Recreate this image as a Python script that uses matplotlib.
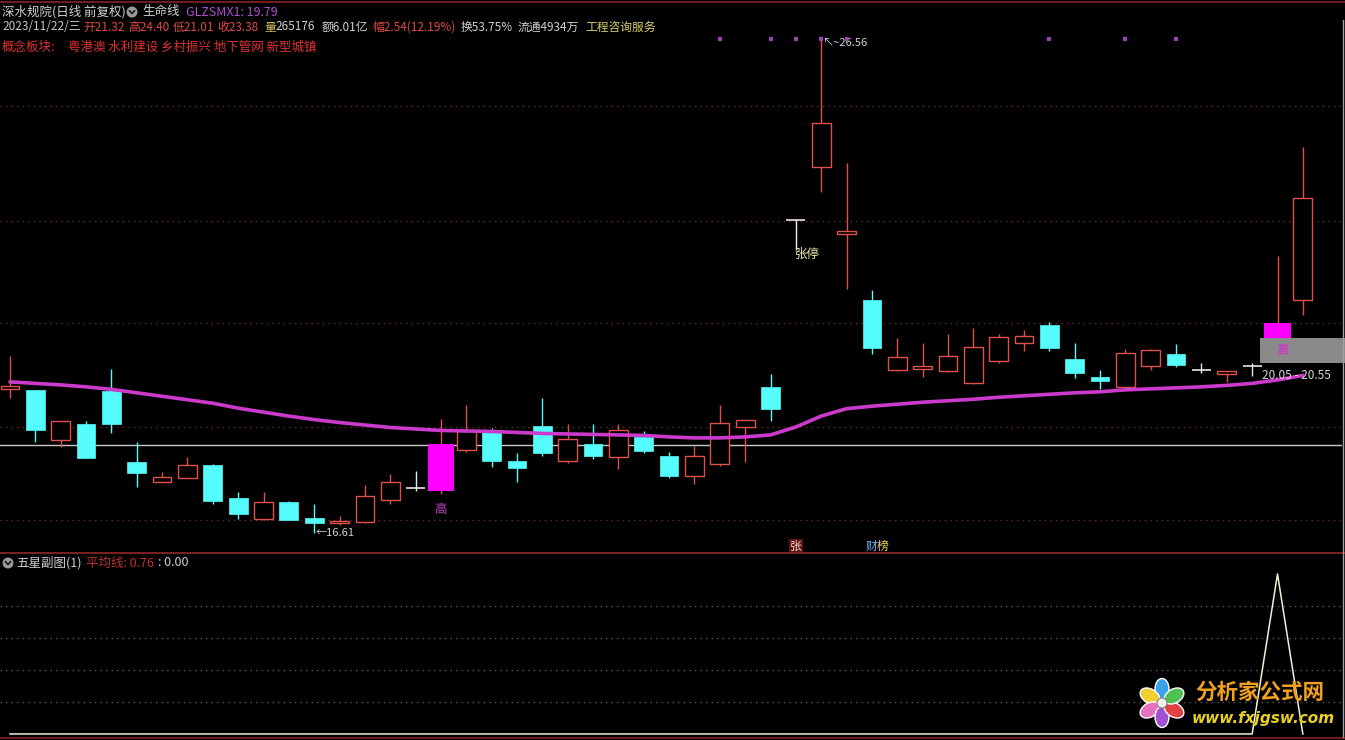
import math
import matplotlib
matplotlib.use("Agg")
import matplotlib.pyplot as plt
from matplotlib.patches import Rectangle, Circle, Ellipse
from matplotlib.lines import Line2D
from matplotlib.transforms import blended_transform_factory, IdentityTransform

plt.rcParams['font.family'] = ['Noto Sans CJK SC', 'DejaVu Sans']

# daily bars (oldest first)
opens = [19.52, 19.50, 18.48, 18.81, 19.48, 18.04, 17.63, 17.73, 17.98, 17.32,
         16.90, 17.23, 16.91, 16.81, 16.84, 17.28, 17.52, 17.46, 18.29, 18.69,
         18.06, 18.77, 18.06, 18.41, 18.15, 18.55, 18.16, 17.77, 18.01, 18.74,
         19.55, 22.93, 23.99, 22.65, 21.31, 19.91, 19.93, 19.89, 19.63, 20.09,
         20.44, 20.81, 20.12, 19.75, 19.56, 19.99, 20.22, 19.91, 19.81, 19.98,
         20.30, 21.32]
highs = [20.18, 19.50, 18.87, 18.87, 19.92, 18.45, 17.84, 18.14, 18.00, 17.44,
         17.43, 17.25, 17.20, 16.95, 17.58, 17.81, 17.86, 18.91, 19.19, 18.72,
         18.22, 19.33, 18.82, 18.81, 18.81, 18.67, 18.24, 18.37, 19.19, 18.89,
         19.82, 22.93, 26.56, 24.07, 21.51, 20.54, 20.44, 20.63, 20.74, 20.63,
         20.71, 20.87, 20.44, 19.90, 20.32, 20.32, 20.42, 20.05, 19.89, 20.05,
         22.20, 24.40]
lows = [19.33, 18.45, 18.34, 18.13, 18.62, 17.53, 17.63, 17.73, 17.20, 16.89,
        16.87, 16.88, 16.61, 16.77, 16.82, 17.20, 17.46, 17.40, 18.25, 17.95,
        17.63, 18.17, 18.03, 18.11, 17.90, 18.22, 17.73, 17.59, 17.96, 18.05,
        18.87, 22.93, 23.50, 21.53, 20.22, 19.87, 19.76, 19.85, 19.62, 20.05,
        20.29, 20.29, 19.73, 19.52, 19.55, 19.91, 19.97, 19.83, 19.66, 19.78,
        20.30, 21.01]
closes = [19.58, 18.68, 18.87, 18.13, 18.82, 17.83, 17.74, 17.98, 17.26, 17.00,
          17.23, 16.88, 16.82, 16.85, 17.36, 17.63, 17.52, 18.40, 18.67, 18.07,
          17.93, 18.23, 18.50, 18.17, 18.68, 18.27, 17.76, 18.16, 18.84, 18.89,
          19.11, 22.93, 24.88, 22.71, 20.35, 20.16, 19.98, 20.18, 20.36, 20.56,
          20.59, 20.35, 19.83, 19.67, 20.24, 20.30, 20.01, 19.91, 19.89, 19.98,
          20.84, 23.38]

# 生命线 GLZSMX1
life_line = [19.66, 19.63, 19.60, 19.56, 19.51, 19.44, 19.37, 19.30, 19.23, 19.13,
             19.05, 18.97, 18.90, 18.84, 18.79, 18.74, 18.71, 18.68, 18.67, 18.66,
             18.64, 18.62, 18.61, 18.60, 18.59, 18.58, 18.55, 18.53, 18.53, 18.55,
             18.59, 18.75, 18.97, 19.12, 19.17, 19.21, 19.25, 19.28, 19.31, 19.35,
             19.38, 19.41, 19.44, 19.46, 19.50, 19.52, 19.54, 19.56, 19.59, 19.63,
             19.70, 19.79]

# 五星副图 values
sub_values = [0, 0, 0, 0, 0, 0, 0, 0, 0, 0, 0, 0, 0, 0, 0, 0, 0, 0, 0, 0,
              0, 0, 0, 0, 0, 0, 0, 0, 0, 0, 0, 0, 0, 0, 0, 0, 0, 0, 0, 0,
              0, 0, 0, 0, 0, 0, 0, 0, 0, 0, 1, 0]

highlight_idx = [17, 50]          # magenta "高" bars
top_dots_idx = [28, 30, 31, 32, 33, 41, 44, 46]
limit_up_idx = 31
zone_low, zone_high = 20.05, 20.55
ref_level = 18.39
grid_levels = [25.23, 22.91, 20.85, 18.75, 16.87]
sub_grid = [0.2, 0.4, 0.6, 0.8]
zhang_idx, caibang_idx = 31, 34

W, H = 1345, 740
BG = 'black'
UP = '#e0504c'
DOWN = '#54fcfc'
DOJI = '#e6e6e6'
MAG = '#ff00ff'
LIFE = '#cc3acc'

fig = plt.figure(figsize=(W / 100, H / 100), dpi=100, facecolor=BG)

xl = (-10 / 25.35, 1332 / 25.35)
ax = fig.add_axes([0, 187 / H, 1342 / W, 550 / H], facecolor=BG)
ax.set_xlim(*xl)
ax.set_ylim(16.207, 27.307)
ax.axis('off')

for g in grid_levels:
    ax.axhline(g, color='#6e2a2a', lw=1, ls=(0, (1, 3)), zorder=0)
ax.axhline(ref_level, color='#c8c8c8', lw=1, zorder=1)

body_w, wide_w = 0.74, 1.06
for i, (o, h, l, c) in enumerate(zip(opens, highs, lows, closes)):
    lo_b, hi_b = min(o, c), max(o, c)
    if i in highlight_idx:
        ax.vlines(i, l, h, color=UP, lw=1, zorder=2)
        ax.add_patch(Rectangle((i - wide_w / 2, lo_b), wide_w, hi_b - lo_b,
                               fc=MAG, ec=MAG, lw=0, zorder=3))
    elif c > o:
        ax.vlines(i, hi_b, h, color=UP, lw=1, zorder=2)
        ax.vlines(i, l, lo_b, color=UP, lw=1, zorder=2)
        ax.add_patch(Rectangle((i - body_w / 2, lo_b), body_w, hi_b - lo_b,
                               fc=BG, ec=UP, lw=1, zorder=3))
    elif c < o:
        ax.vlines(i, l, h, color=DOWN, lw=1, zorder=2)
        ax.add_patch(Rectangle((i - body_w / 2, lo_b), body_w, hi_b - lo_b,
                               fc=DOWN, ec=DOWN, lw=0.5, zorder=3))
    else:
        ax.vlines(i, l, h, color=DOJI, lw=1, zorder=2)
        ax.hlines(c, i - body_w / 2, i + body_w / 2, color=DOJI, lw=1.2, zorder=3)

ax.plot(range(len(life_line)), life_line, color=LIFE, lw=2.6, zorder=4,
        solid_capstyle='round')

# annotations
ax.text(highlight_idx[0], lows[highlight_idx[0]] - 0.18, '高', color='#c040c0',
        fontsize=9, ha='center', va='top', zorder=5)
lo_i = lows.index(min(lows))
ax.text(lo_i + 0.05, lows[lo_i], '←16.61', color='#d0d0d0', fontsize=8,
        ha='left', va='center', zorder=5)
hi_i = highs.index(max(highs))
ax.text(hi_i + 0.05, highs[hi_i] + 0.04, '↖~26.56', color='#d0d0d0', fontsize=8,
        ha='left', va='top', zorder=5)
lu = closes[limit_up_idx]
ax.vlines(limit_up_idx, lu - 0.6, lu, color='#f0f0f0', lw=1, zorder=5)
ax.text(limit_up_idx - 0.05, lu - 0.7, '张停', color='#f0f0b8', fontsize=9,
        ha='left', va='center', zorder=5)

# zone box on the right
ax.add_patch(Rectangle((highlight_idx[1] - 0.68, zone_low), 5, zone_high - zone_low,
                       fc='#8a8a8a', ec='none', zorder=6, clip_on=False))
ax.text(highlight_idx[1] + 0.2, (zone_low + zone_high) / 2, '高', color='#e020e0',
        fontsize=9, ha='center', va='center', zorder=7)
ax.text(highlight_idx[1] - 0.62, zone_low - 0.13, f'{zone_low:.2f} - {zone_high:.2f}',
        color='#d8d8d8', fontsize=8.5, ha='left', va='top', zorder=7)

tr = blended_transform_factory(ax.transData, ax.transAxes)
ax.scatter(top_dots_idx, [0.9345] * len(top_dots_idx), s=6, marker='s',
           color='#a040b0', transform=tr, zorder=5, linewidths=0)
ax.text(zhang_idx, 0.0127, '张', color='#ffd8d8', fontsize=8.5, ha='center',
        va='center', transform=tr,
        bbox=dict(fc='#5e1414', ec='none', pad=0.6))
ax.text(caibang_idx + 0.2, 0.0127, '财', color='#70b8ff', fontsize=8.5,
        ha='right', va='center', transform=tr)
ax.text(caibang_idx + 0.2, 0.0127, '榜', color='#f0d060', fontsize=8.5,
        ha='left', va='center', transform=tr)

# sub panel
sx = fig.add_axes([0, 3 / H, 1342 / W, 184 / H], facecolor=BG)
sx.set_xlim(*xl)
sx.set_ylim(-0.019, 1.131)
sx.axis('off')
for g in sub_grid:
    sx.axhline(g, color='#5a5a5a', lw=1, ls=(0, (1, 3)), zorder=0)
sx.plot(range(len(sub_values)), sub_values, color='#f0f0d4', lw=1.1, zorder=3)

# watermark logo
lg = fig.add_axes([1132 / W, 4 / H, 210 / W, 68 / H])
lg.set_xlim(0, 210)
lg.set_ylim(0, 68)
lg.axis('off')
petals = ['#3aa0e8', '#f0d030', '#e870c0', '#a050d0', '#e04040', '#50c050']
cx, cy = 30, 33
for k, pc in enumerate(petals):
    a = math.radians(90 + k * 60)
    lg.add_patch(Ellipse((cx + 14 * math.cos(a), cy + 14 * math.sin(a)), 21, 14,
                         angle=math.degrees(a), fc=pc, ec='white', lw=1))
lg.add_patch(Circle((cx, cy), 5, fc='#f0f0f0', ec='#808080', lw=0.8))
lg.text(63, 44, '分析家公式网', color='#f0a020', fontsize=15.5, fontweight='bold',
        ha='left', va='center')
lg.text(60, 17, 'www.fxjgsw.com', color='#e8d020', fontsize=11,
        fontweight='bold', style='italic', ha='left', va='center',
        family=['DejaVu Sans'])

# frame lines
fig.add_artist(Line2D([0, 1], [1 - 1.5 / H] * 2, color='#6e1c1c', lw=1.5))
fig.add_artist(Line2D([0, 1], [187 / H] * 2, color='#7a2020', lw=1.5))
fig.add_artist(Line2D([0, 1], [2.5 / H] * 2, color='#6e1c1c', lw=1.5))
fig.add_artist(Line2D([1342.5 / W] * 2, [3 / H, 1 - 20 / H], color='#a0a0a0', lw=1))

# header text
renderer = fig.canvas.get_renderer()


def draw_runs(x_px, y_px, runs, size=9):
    # runs: (text, colour, gap after, fixed start x or None)
    x = x_px
    for s, col, gap, *fixed in runs:
        if fixed and fixed[0] is not None:
            x = max(x, fixed[0])
        t = fig.text(x / W, 1 - y_px / H, s, color=col, fontsize=size,
                     ha='left', va='center')
        bb = t.get_window_extent(renderer)
        x = bb.x1 + gap
    return x


def icon(x_px, y_px):
    fig.add_artist(Circle((x_px, H - y_px), 5.5, fc='#9a9a9a', ec='none',
                          transform=IdentityTransform()))
    fig.add_artist(Line2D([x_px - 2.5, x_px, x_px + 2.5],
                          [H - y_px + 1.2, H - y_px - 1.5, H - y_px + 1.2],
                          color='#202020', lw=1.3, transform=IdentityTransform()))


RED = '#e04848'
GRAY = '#d0d0d0'
draw_runs(2, 12, [('深水规院(日线 前复权)', GRAY, 0)])
icon(132, 12)
draw_runs(142, 12, [('生命线', GRAY, 6), (f'GLZSMX1: {life_line[-1]:.2f}', '#b050d0', 0)])
draw_runs(2, 27, [('2023/11/22/三', '#c8c8c8', 3), ('开21.32', RED, 3, 80),
                  ('高24.40', RED, 3, 126), ('低21.01', RED, 3, 173),
                  ('收23.38', RED, 3, 217), ('量', '#c8c060', 0, 264),
                  ('265176', GRAY, 3), ('额6.01亿', GRAY, 3, 322),
                  ('幅2.54(12.19%)', RED, 3, 372), ('换53.75%', GRAY, 3, 461),
                  ('流通4934万', GRAY, 3, 518), ('工程咨询服务', '#d8d070', 0, 585)],
          size=8.5)
draw_runs(2, 47, [('概念板块:', '#e03030', 13),
                  ('粤港澳 水利建设 乡村振兴 地下管网 新型城镇', '#e03030', 0)])
icon(8, 563)
draw_runs(16, 563, [('五星副图(1)', GRAY, 5), ('平均线: 0.76', '#c03030', 4),
                    (': 0.00', GRAY, 0)])

fig.savefig('out.png', dpi=100, facecolor=BG)
